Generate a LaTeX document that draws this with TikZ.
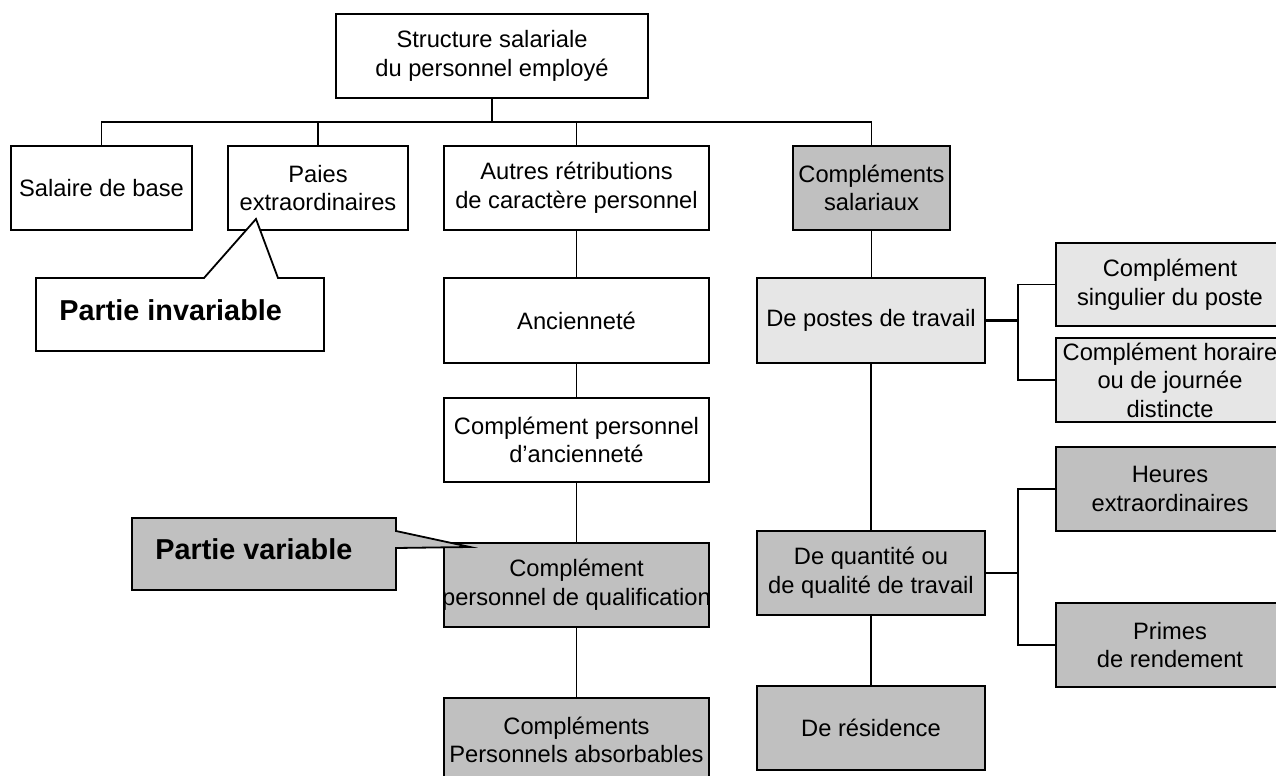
\documentclass[tikz,border=0pt]{standalone}
\usepackage{fontspec}
\setmainfont{Liberation Sans}
\definecolor{darkfill}{HTML}{C0C0C0}
\definecolor{lightfill}{HTML}{E6E6E6}
\begin{document}
\begin{tikzpicture}[x=0.5pt,y=-0.5pt,
  box/.style={draw=black, line width=0.9pt, inner sep=0pt, align=center,
    font=\fontsize{11.85pt}{14.3pt}\selectfont},
  wbox/.style={box, fill=white},
  gbox/.style={box, fill=darkfill},
  lbox/.style={box, fill=lightfill},
  link/.style={line width=0.9pt},
  thicklink/.style={line width=1.4pt},
  callout/.style={draw=black, line width=0.9pt, line join=miter},
  callouttext/.style={anchor=west, inner sep=0pt, font=\bfseries\fontsize{14.4pt}{17pt}\selectfont}]
\path[use as bounding box, clip] (0,0) rectangle (1276,776);

% top level
\node[wbox, minimum width=156pt, minimum height=42pt] (top) at (492,56)
  {Structure salariale\\du personnel employé};

% first row
\node[wbox, minimum width=90.5pt, minimum height=42pt] (sal) at (101.5,188) {Salaire de base};
\node[wbox, minimum width=90pt, minimum height=42pt] (paies) at (318,188) {Paies\\extraordinaires};
\node[wbox, minimum width=132.5pt, minimum height=42pt] (autres) at (576.5,188)
  {Autres rétributions\\de caractère personnel};
\node[gbox, minimum width=78.5pt, minimum height=42pt] (compsal) at (871.5,188)
  {Compléments\\salariaux};

% personal column
\node[wbox, minimum width=132.5pt, minimum height=42.5pt] (anc) at (576.5,320.5) {Ancienneté};
\node[wbox, minimum width=132.5pt, minimum height=42pt] (cpa) at (576.5,440)
  {Complément personnel\\d’ancienneté};
\node[gbox, minimum width=132.5pt, minimum height=42pt] (cpq) at (576.5,585)
  {Complément\\\makebox[0pt]{personnel de qualification}};
\node[gbox, minimum width=132.5pt, minimum height=42pt] (cpabs) at (576.5,740)
  {Compléments\\Personnels absorbables};

% salary supplements column
\node[lbox, minimum width=114pt, minimum height=42.5pt] (postes) at (871,320.5) {De postes de travail};
\node[gbox, minimum width=114pt, minimum height=42pt] (quant) at (871,573)
  {De quantité ou\\de qualité de travail};
\node[gbox, minimum width=114pt, minimum height=42pt] (resid) at (871,728) {De résidence};

% right column
\node[lbox, minimum width=114pt, minimum height=41.5pt] (sing) at (1170,284.5)
  {Complément\\singulier du poste};
\node[lbox, minimum width=114pt, minimum height=42pt] (horaire) at (1170,380)
  {Complément horaire\\ou de journée\\distincte};
\node[gbox, minimum width=114pt, minimum height=42pt] (heures) at (1170,489)
  {Heures\\extraordinaires};
\node[gbox, minimum width=114pt, minimum height=42pt] (primes) at (1170,645)
  {Primes\\de rendement};

% tree connectors
\coordinate (bus) at (492,122);
\draw[link] (top.south) -- (bus);
\draw[link] (sal.north) |- (bus) -| (compsal.north);
\draw[link] (paies.north) -- (paies.north |- bus);
\draw[link] (autres.north) -- (autres.north |- bus);
\draw[link] (autres.south) -- (anc.north);
\draw[link] (anc.south) -- (cpa.north);
\draw[link] (cpa.south) -- (cpq.north);
\draw[link] (cpq.south) -- (cpabs.north);
\draw[link] (compsal.south) -- (compsal.south |- postes.north);
\draw[link] (postes.south) -- (quant.north);
\draw[link] (quant.south) -- (resid.north);

% brackets to the right column
\coordinate (jp) at (1018,320.5);
\coordinate (jq) at (1018,573);
\draw[thicklink] (postes.east) -- (jp);
\draw[link] (sing.west) -| (jp) |- (horaire.west);
\draw[thicklink] (quant.east) -- (jq);
\draw[link] (heures.west) -| (jq) |- (primes.west);

% callouts
\draw[callout, fill=white] (36,278) -- (204,278) -- (256,219) -- (278,278) -- (324,278)
  -- (324,351) -- (36,351) -- cycle;
\node[callouttext] (inv) at (59,310) {Partie invariable};
\draw[callout, fill=darkfill] (132,518) -- (396,518) -- (396,531) -- (470,547) -- (396,548)
  -- (396,590) -- (132,590) -- cycle;
\node[callouttext] (var) at (155,549) {Partie variable};
\end{tikzpicture}
\end{document}
